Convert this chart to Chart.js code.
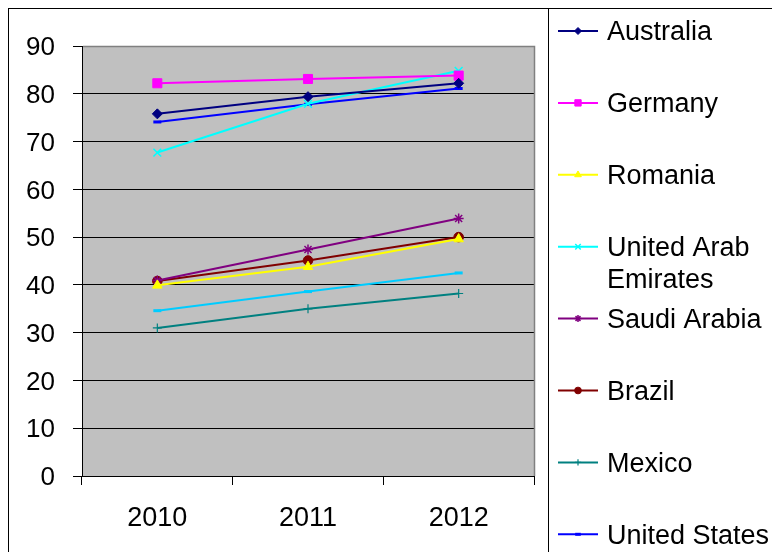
<!DOCTYPE html>
<html>
<head>
<meta charset="utf-8">
<script src="https://cdn.jsdelivr.net/npm/chart.js@4.4.1/dist/chart.umd.min.js"></script>
<style>
  html, body { margin: 0; padding: 0; background: #ffffff; }
  canvas { display: block; }
</style>
</head>
<body>
<canvas id="chart" width="772" height="552"></canvas>
<script>
// Categories and tick labels
const years = ['2010', '2011', '2012'];
const yTickValues = [0, 10, 20, 30, 40, 50, 60, 70, 80, 90];

// Series names
const countries = ['Australia', 'Germany', 'Romania', 'United Arab Emirates',
  'Saudi Arabia', 'Brazil', 'Mexico', 'United States', 'Other'];

// Series values, one array per country
const australia    = [75.8, 79.4, 82.2];
const germany      = [82.2, 83.1, 83.8];
const romania      = [39.9, 43.8, 49.6];
const uae          = [67.7, 77.9, 84.8];
const saudiArabia  = [40.9, 47.4, 53.9];
const brazil       = [40.8, 45.1, 50.0];
const mexico       = [31.0, 35.0, 38.2];
const unitedStates = [74.1, 77.8, 81.1];
const other        = [34.6, 38.6, 42.5];

const seriesValues = [australia, germany, romania, uae, saudiArabia, brazil, mexico, unitedStates, other];

// Classic spreadsheet series styling
const seriesStyles = [
  { color: '#000080', point: 'rectRot',  radius: 5,   bw: 1 },
  { color: '#FF00FF', point: 'rect',     radius: 6.4, bw: 1 },
  { color: '#FFFF00', point: 'triangle', radius: 5.5, bw: 1 },
  { color: '#00FFFF', point: 'crossRot', radius: 5.5, bw: 1.5 },
  { color: '#800080', point: 'star',     radius: 5,   bw: 1.5 },
  { color: '#800000', point: 'circle',   radius: 4.8, bw: 1 },
  { color: '#008080', point: 'cross',    radius: 4.5, bw: 1.2 },
  { color: '#0000FF', point: 'line',     radius: 4,   bw: 3 },
  { color: '#00CCFF', point: 'line',     radius: 4,   bw: 3 }
];

const FONT = "'Liberation Sans', Arial, sans-serif";

const datasets = seriesValues.map((vals, i) => {
  const s = seriesStyles[i];
  return {
    label: countries[i],
    data: vals,
    borderColor: s.color,
    backgroundColor: s.color,
    borderWidth: 2,
    pointStyle: s.point,
    pointRadius: s.radius,
    pointHoverRadius: s.radius,
    pointBorderWidth: s.bw,
    pointBackgroundColor: s.color,
    pointBorderColor: s.color,
    tension: 0,
    fill: false
  };
});

// Grey plot area, outer frame and legend frame
const framePlugin = {
  id: 'frame',
  beforeDraw(chart) {
    const { ctx, chartArea: a } = chart;
    ctx.save();
    ctx.fillStyle = '#C0C0C0';
    ctx.fillRect(a.left, a.top, a.right - a.left, a.bottom - a.top);
    ctx.strokeStyle = '#000000';
    ctx.lineWidth = 1;
    ctx.strokeRect(8.5, 8.5, 1000, 1000);
    ctx.strokeRect(548.5, 8.5, 1000, 1000);
    ctx.restore();
  },
  beforeDatasetsDraw(chart) {
    const { ctx, chartArea: a } = chart;
    ctx.save();
    ctx.strokeStyle = '#808080';
    ctx.lineWidth = 1.5;
    ctx.beginPath();
    ctx.moveTo(a.left + 1, a.top + 0.5);
    ctx.lineTo(a.right + 0.5, a.top + 0.5);
    ctx.lineTo(a.right + 0.5, a.bottom);
    ctx.stroke();
    ctx.restore();
  }
};

// Legend drawn in its own box to the right
function wrapText(ctx, text, maxWidth) {
  const words = text.split(' ');
  const lines = [];
  let cur = '';
  for (const w of words) {
    const test = cur ? cur + ' ' + w : w;
    if (cur && ctx.measureText(test).width > maxWidth) {
      lines.push(cur);
      cur = w;
    } else {
      cur = test;
    }
  }
  if (cur) lines.push(cur);
  return lines;
}

const legendPlugin = {
  id: 'sideLegend',
  afterDraw(chart) {
    const { ctx } = chart;
    const startY = 31, step = 71.9, lineH = 31.5, textShift = 2;
    const x0 = 558, x1 = 598, textX = 607;
    ctx.save();
    ctx.font = '27px ' + FONT;
    ctx.textBaseline = 'middle';
    ctx.textAlign = 'left';
    chart.data.datasets.forEach((ds, i) => {
      const y = startY + i * step;
      ctx.strokeStyle = ds.borderColor;
      ctx.lineWidth = 2;
      ctx.beginPath();
      ctx.moveTo(x0, y);
      ctx.lineTo(x1, y);
      ctx.stroke();
      ctx.fillStyle = ds.pointBackgroundColor;
      ctx.strokeStyle = ds.pointBorderColor;
      ctx.lineWidth = ds.pointBorderWidth;
      Chart.helpers.drawPoint(ctx, {
        pointStyle: ds.pointStyle,
        radius: ds.pointRadius * 0.7,
        rotation: 0,
        borderWidth: ds.pointBorderWidth
      }, (x0 + x1) / 2, y);
      ctx.fillStyle = '#000000';
      const lines = wrapText(ctx, ds.label, 185);
      lines.forEach((ln, k) => ctx.fillText(ln, textX, y + textShift + k * lineH));
    });
    ctx.restore();
  }
};

new Chart(document.getElementById('chart'), {
  type: 'line',
  data: { labels: years, datasets },
  plugins: [framePlugin, legendPlugin],
  options: {
    responsive: false,
    animation: false,
    events: [],
    layout: { padding: { left: 8, top: 46, right: 238, bottom: 0 } },
    plugins: {
      legend: { display: false },
      tooltip: { enabled: false },
      title: { display: false }
    },
    scales: {
      x: {
        offset: true,
        grid: {
          offset: true,
          drawOnChartArea: false,
          drawTicks: true,
          tickLength: 9,
          color: '#000000',
          lineWidth: 1
        },
        border: { display: true, color: '#000000', width: 1 },
        ticks: {
          color: '#000000',
          font: { family: FONT, size: 27 },
          padding: 17,
          maxRotation: 0
        },
        afterFit(scale) { scale.height = 76; }
      },
      y: {
        min: 0,
        max: 90,
        afterBuildTicks(scale) {
          scale.ticks = yTickValues.map(v => ({ value: v }));
        },
        grid: {
          drawTicks: true,
          tickLength: 9,
          color: '#000000',
          lineWidth: 1
        },
        border: { display: true, color: '#000000', width: 1 },
        ticks: {
          color: '#000000',
          font: { family: FONT, size: 26 },
          padding: 18,
          labelOffset: 2
        },
        afterFit(scale) { scale.width = 74; }
      }
    }
  }
});
</script>
</body>
</html>
